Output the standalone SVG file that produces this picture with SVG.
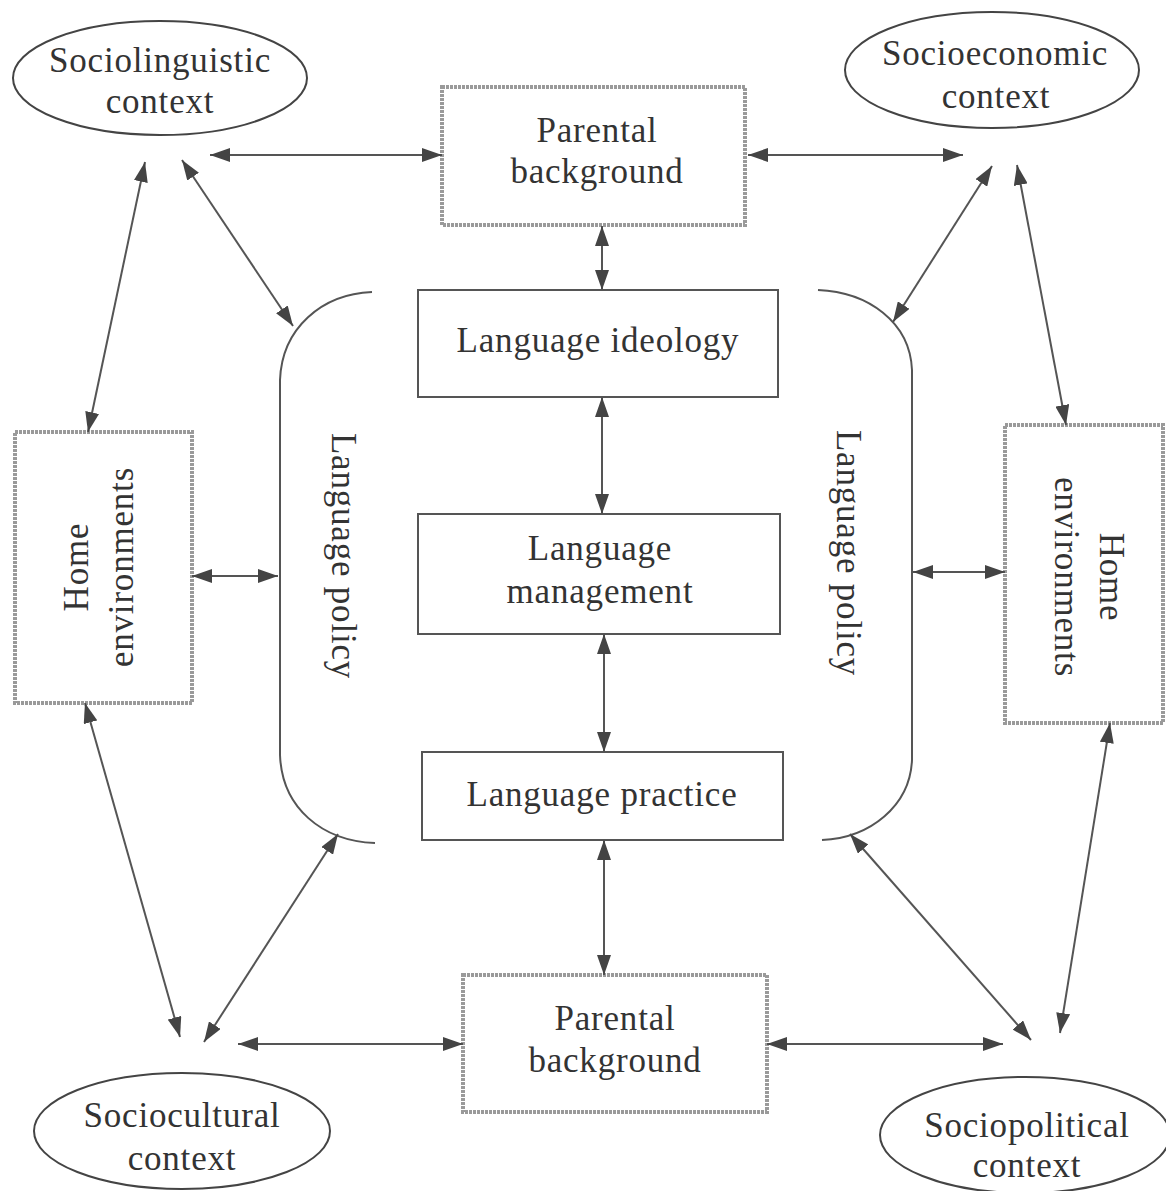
<svg xmlns="http://www.w3.org/2000/svg" width="1166" height="1191" viewBox="0 0 1166 1191">
<defs>
<style>
text{font-family:"Liberation Serif","Times New Roman",serif;font-size:35px;fill:#333;text-anchor:middle;letter-spacing:0.8px}
.ell{fill:none;stroke:#444;stroke-width:2}
.core{fill:#fff;stroke:#555;stroke-width:2}
.outer{fill:#fff;stroke:#9a9a9a;stroke-width:4;stroke-dasharray:3 1}
.con{fill:none;stroke:#555;stroke-width:2}
.brk{fill:none;stroke:#555;stroke-width:2}
</style>
<marker id="ah" markerUnits="userSpaceOnUse" markerWidth="20" markerHeight="14" refX="20" refY="7" orient="auto-start-reverse">
<path d="M0,0 L20,7 L0,14 z" fill="#444"/>
</marker>
</defs>
<rect width="1166" height="1191" fill="#fff"/>

<g id="sociolinguistic">
<ellipse class="ell" cx="160" cy="78" rx="147" ry="57"/>
<text x="160" y="72">Sociolinguistic</text>
<text x="160" y="113">context</text>
</g>
<g id="socioeconomic">
<ellipse class="ell" cx="992" cy="70" rx="147" ry="58"/>
<text x="995" y="65">Socioeconomic</text>
<text x="996" y="108">context</text>
</g>
<g id="sociocultural">
<ellipse class="ell" cx="182" cy="1131" rx="148" ry="58"/>
<text x="182" y="1127">Sociocultural</text>
<text x="182" y="1170">context</text>
</g>
<g id="sociopolitical">
<ellipse class="ell" cx="1025" cy="1135" rx="145" ry="58"/>
<text x="1027" y="1137">Sociopolitical</text>
<text x="1027" y="1177">context</text>
</g>

<g id="parental-top">
<rect class="outer" x="442" y="87" width="303" height="138"/>
<text x="597" y="142">Parental</text>
<text x="597" y="183">background</text>
</g>
<g id="language-ideology">
<rect class="core" x="418" y="290" width="360" height="107"/>
<text x="598" y="352">Language ideology</text>
</g>
<g id="language-management">
<rect class="core" x="418" y="514" width="362" height="120"/>
<text x="600" y="560">Language</text>
<text x="600" y="603">management</text>
</g>
<g id="language-practice">
<rect class="core" x="422" y="752" width="361" height="88"/>
<text x="602" y="806">Language practice</text>
</g>
<g id="parental-bottom">
<rect class="outer" x="463" y="975" width="304" height="137"/>
<text x="615" y="1030">Parental</text>
<text x="615" y="1072">background</text>
</g>

<g id="home-left">
<rect class="outer" x="15" y="432" width="177" height="271"/>
<g transform="translate(103,567) rotate(-90)">
<text x="0" y="-15">Home</text>
<text x="0" y="30">environments</text>
</g>
</g>
<g id="home-right">
<rect class="outer" x="1005" y="425" width="158" height="298"/>
<g transform="translate(1085,577) rotate(90)">
<text x="0" y="-15">Home</text>
<text x="0" y="30">environments</text>
</g>
</g>

<g id="language-policy-left">
<path class="brk" d="M372,292 C322,294 282,328 280,380 L280,755 C282,808 322,841 375,843"/>
<g transform="translate(332,556) rotate(90)"><text x="0" y="0">Language policy</text></g>
</g>
<g id="language-policy-right">
<path class="brk" d="M818,290 C868,292 910,322 912,370 L912,760 C910,806 870,838 822,840"/>
<g transform="translate(837,553) rotate(90)"><text x="0" y="0">Language policy</text></g>
</g>

<g id="connectors">
<line class="con" marker-start="url(#ah)" marker-end="url(#ah)" x1="210" y1="155" x2="442" y2="155"/>
<line class="con" marker-start="url(#ah)" marker-end="url(#ah)" x1="748" y1="155" x2="963" y2="155"/>
<line class="con" marker-start="url(#ah)" marker-end="url(#ah)" x1="602" y1="226" x2="602" y2="290"/>
<line class="con" marker-start="url(#ah)" marker-end="url(#ah)" x1="602" y1="397" x2="602" y2="514"/>
<line class="con" marker-start="url(#ah)" marker-end="url(#ah)" x1="604" y1="634" x2="604" y2="752"/>
<line class="con" marker-start="url(#ah)" marker-end="url(#ah)" x1="604" y1="840" x2="604" y2="975"/>
<line class="con" marker-start="url(#ah)" marker-end="url(#ah)" x1="238" y1="1044" x2="463" y2="1044"/>
<line class="con" marker-start="url(#ah)" marker-end="url(#ah)" x1="767" y1="1044" x2="1003" y2="1044"/>
<line class="con" marker-start="url(#ah)" marker-end="url(#ah)" x1="145" y1="162" x2="88" y2="432"/>
<line class="con" marker-start="url(#ah)" marker-end="url(#ah)" x1="182" y1="160" x2="293" y2="326"/>
<line class="con" marker-start="url(#ah)" marker-end="url(#ah)" x1="192" y1="576" x2="278" y2="576"/>
<line class="con" marker-start="url(#ah)" marker-end="url(#ah)" x1="85" y1="703" x2="180" y2="1037"/>
<line class="con" marker-start="url(#ah)" marker-end="url(#ah)" x1="338" y1="834" x2="204" y2="1042"/>
<line class="con" marker-start="url(#ah)" marker-end="url(#ah)" x1="992" y1="166" x2="893" y2="322"/>
<line class="con" marker-start="url(#ah)" marker-end="url(#ah)" x1="1017" y1="165" x2="1066" y2="425"/>
<line class="con" marker-start="url(#ah)" marker-end="url(#ah)" x1="913" y1="572" x2="1005" y2="572"/>
<line class="con" marker-start="url(#ah)" marker-end="url(#ah)" x1="850" y1="834" x2="1031" y2="1040"/>
<line class="con" marker-start="url(#ah)" marker-end="url(#ah)" x1="1110" y1="723" x2="1060" y2="1033"/>
</g>
</svg>
